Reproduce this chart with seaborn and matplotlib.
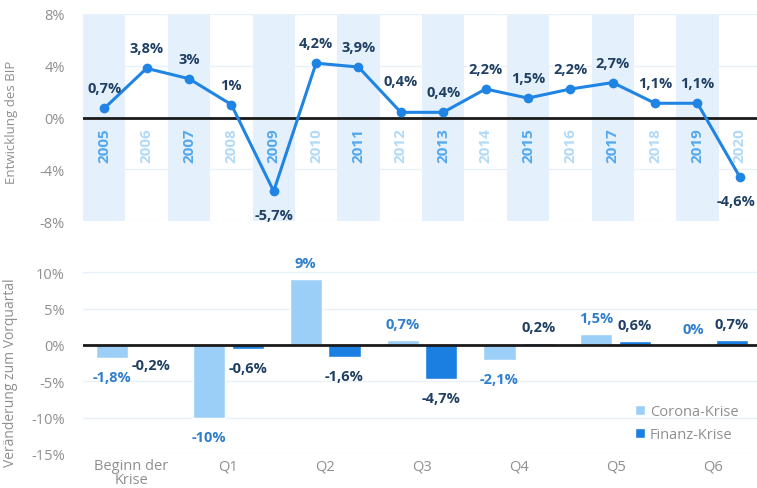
import pandas as pd
import matplotlib.pyplot as plt
import seaborn as sns

# Entwicklung des BIP (Jahreswerte)
jahre = [2005, 2006, 2007, 2008, 2009, 2010, 2011, 2012,
         2013, 2014, 2015, 2016, 2017, 2018, 2019, 2020]
bip = [0.7, 3.8, 3.0, 1.0, -5.7, 4.2, 3.9, 0.4,
       0.4, 2.2, 1.5, 2.2, 2.7, 1.1, 1.1, -4.6]

# Veraenderung zum Vorquartal
quartale = ["Beginn der\nKrise", "Q1", "Q2", "Q3", "Q4", "Q5", "Q6"]
corona = [-1.8, -10.0, 9.0, 0.7, -2.1, 1.5, 0.0]
finanz = [-0.2, -0.6, -1.6, -4.7, 0.2, 0.6, 0.7]
krisen = ["Corona-Krise", "Finanz-Krise"]

LINE = "#1f84e3"
BAND = "#e4f1fc"
LIGHT = "#9ccff8"
DARK = "#1a7fe0"
NAVY = "#1f3f63"
MID = "#2f7fcc"
GRAY = "#8f8f8f"


def fmt(v):
    return f"{v:g}".replace(".", ",") + "%"


def style_axis(ax):
    sns.despine(ax=ax, left=True, bottom=True)
    ax.tick_params(axis="both", length=0, labelsize=10.5, labelcolor=GRAY)
    ax.yaxis.grid(True, color="#e8f0fa", lw=1)
    ax.xaxis.grid(False)
    ax.set_axisbelow(True)
    ax.axhline(0, color="#1a1a1a", lw=2, zorder=2)


sns.set_theme(style="white")
plt.rcParams["font.family"] = ["Open Sans", "DejaVu Sans"]

fig = plt.figure(figsize=(7.57, 4.89), dpi=100)

# ---- oberes Diagramm ----
ax1 = fig.add_axes([83 / 757, 1 - 222 / 489, 678 / 757, 207 / 489])
df_bip = pd.DataFrame({"pos": range(len(jahre)), "jahr": jahre, "bip": bip})

for i in range(0, len(jahre), 2):
    ax1.axvspan(i - 0.5, i + 0.5, color=BAND, lw=0, zorder=0)

sns.lineplot(data=df_bip, x="pos", y="bip", ax=ax1, color=LINE, lw=2.2,
             marker="o", markersize=7, markeredgewidth=0, zorder=3)

style_axis(ax1)
ax1.set_xlim(-0.5, len(jahre) - 0.5)
ax1.set_ylim(-8, 8)
ax1.set_yticks([-8, -4, 0, 4, 8])
ax1.set_yticklabels([fmt(t) for t in [-8, -4, 0, 4, 8]])
ax1.set_xticks([])
ax1.set_xlabel("")
ax1.set_ylabel("Entwicklung des BIP", color=GRAY, fontsize=9.5)
ax1.yaxis.set_label_coords(-0.096, 0.483)
ax1.tick_params(axis="y", pad=13)

# kleine Verschiebungen der Beschriftung (Pixel), damit nichts kollidiert
label_shift = {2012: (0, 11), 2020: (-4, 0)}
for i, (j, v) in enumerate(zip(jahre, bip)):
    colr = "#55a8ee" if i % 2 == 0 else "#b3daf7"
    ax1.text(i, -0.75, str(j), rotation=90, ha="center", va="top",
             fontsize=11, fontweight="bold", color=colr, zorder=1)
    sx, sy = label_shift.get(j, (0, 0))
    dy = (20 if v >= 0 else -24) + sy
    ax1.annotate(fmt(v), (i, v), xytext=(sx, dy), textcoords="offset pixels",
                 ha="center", va="center", fontsize=10.5, fontweight="bold",
                 color=NAVY, zorder=4)

# ---- unteres Diagramm ----
ax2 = fig.add_axes([83 / 757, 1 - 455 / 489, 678 / 757, 200 / 489])
df_q = pd.DataFrame({
    "quartal": quartale * 2,
    "wert": corona + finanz,
    "krise": [krisen[0]] * len(quartale) + [krisen[1]] * len(quartale),
})
sns.barplot(data=df_q, x="quartal", y="wert", hue="krise", ax=ax2,
            palette=[LIGHT, DARK], width=0.8, gap=0.17, saturation=1,
            zorder=1)

style_axis(ax2)
ax2.set_xlim(-0.5, len(quartale) - 0.5)
ax2.set_ylim(-15, 12.5)
ax2.set_yticks([-15, -10, -5, 0, 5, 10])
ax2.set_yticklabels([fmt(t) for t in [-15, -10, -5, 0, 5, 10]])
ax2.tick_params(axis="y", pad=13)
ax2.tick_params(axis="x", pad=3)
for t in ax2.get_xticklabels():
    t.set_va("top")
    t.set_linespacing(0.9)
ax2.set_xlabel("")
ax2.set_ylabel("Veränderung zum Vorquartal", color=GRAY, fontsize=10)
ax2.yaxis.set_label_coords(-0.096, 0.41)

for cont, vals, colr in zip(ax2.containers, [corona, finanz], [MID, NAVY]):
    for bar, v in zip(cont, vals):
        x = bar.get_x() + bar.get_width() / 2
        dy = 16 if v >= 0 else -19
        ax2.annotate(fmt(v), (x, v), xytext=(0, dy), textcoords="offset pixels",
                     ha="center", va="center", fontsize=10.5, fontweight="bold",
                     color=colr, zorder=4)

leg = ax2.legend(loc="upper left", bbox_to_anchor=(0.795, 0.315), frameon=False,
                 fontsize=10.5, handlelength=0.7, handleheight=0.7,
                 handletextpad=0.3, labelspacing=0.55)
for txt in leg.get_texts():
    txt.set_color(GRAY)

fig.savefig("out.png", dpi=100)
